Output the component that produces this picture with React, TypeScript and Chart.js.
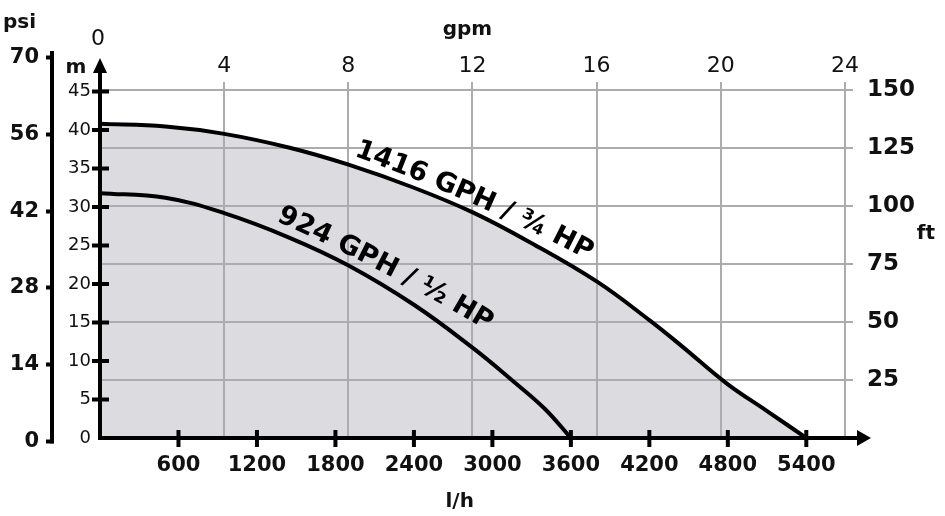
import React, { useEffect, useRef } from 'react';
import { Chart, registerables } from 'chart.js';

Chart.register(...registerables);

// ---- data ----
const flowLph1 = [0, 500, 950, 1450, 1900, 2400, 2850, 3300, 3800, 4200, 4450, 4790, 5100, 5400];
const headM1 = [40.8, 40.45, 39.5, 37.7, 35.5, 32.5, 29.3, 25.3, 20.3, 15.3, 11.9, 7.1, 3.5, 0];
const flowLph2 = [0, 500, 950, 1450, 1900, 2400, 2850, 3150, 3400, 3600];
const headM2 = [31.8, 31.2, 29.2, 26.0, 22.4, 17.3, 11.7, 7.5, 3.8, 0];

const curveLabels = ['1416 GPH / \u00BE HP', '924 GPH / \u00BD HP'];

const lphTicks = [600, 1200, 1800, 2400, 3000, 3600, 4200, 4800, 5400];
const gpmTicks = [0, 4, 8, 12, 16, 20, 24];
const mTicks = [0, 5, 10, 15, 20, 25, 30, 35, 40, 45];
const ftTicks = [25, 50, 75, 100, 125, 150];
const psiTicks = [0, 14, 28, 42, 56, 70];

const FONT = '"DejaVu Sans", sans-serif';
const INK = '#111';

const toPoints = (xs: number[], ys: number[]) => xs.map((x, i) => ({ x, y: ys[i] }));

function drawArcText(ctx: CanvasRenderingContext2D, text: string, cx: number, cy: number, a0d: number, a1d: number) {
  const chars = [...text];
  const widths = chars.map((c) => ctx.measureText(c).width);
  const W = widths.reduce((a, b) => a + b, 0);
  const a0 = (a0d * Math.PI) / 180;
  const a1 = (a1d * Math.PI) / 180;
  const ang = (s: number) => a0 + (a1 - a0) * (s / W);
  const pos = (s: number) => {
    const n = 40;
    let x = cx;
    let y = cy;
    const ds = (s - W / 2) / n;
    for (let i = 0; i < n; i++) {
      const a = ang(W / 2 + (i + 0.5) * ds);
      x += Math.cos(a) * ds;
      y += Math.sin(a) * ds;
    }
    return [x, y];
  };
  let s = 0;
  chars.forEach((c, i) => {
    const sm = s + widths[i] / 2;
    const [x, y] = pos(sm);
    ctx.save();
    ctx.translate(x, y);
    ctx.rotate(ang(sm));
    ctx.fillText(c, 0, 0);
    ctx.restore();
    s += widths[i];
  });
}

const decorPlugin = {
  id: 'pumpDecor',
  afterDatasetDraw(chart: any, args: any) {
    if (args.index !== 0) return;
    const { ctx, chartArea: ca, scales } = chart;
    ctx.save();
    ctx.strokeStyle = 'rgb(172,172,176)';
    ctx.lineWidth = 2;
    for (const v of ftTicks) {
      const y = Math.round(scales.ft.getPixelForValue(v));
      ctx.beginPath();
      ctx.moveTo(ca.left, y);
      ctx.lineTo(ca.right, y);
      ctx.stroke();
    }
    for (const v of gpmTicks) {
      if (v === 0) continue;
      const x = Math.round(scales.x2.getPixelForValue(v));
      ctx.beginPath();
      ctx.moveTo(x, ca.top + 29);
      ctx.lineTo(x, ca.bottom);
      ctx.stroke();
    }
    ctx.restore();
  },
  afterDatasetsDraw(chart: any) {
    const { ctx, chartArea: ca, scales } = chart;
    ctx.save();
    ctx.strokeStyle = '#000';
    ctx.fillStyle = '#000';
    ctx.lineWidth = 4;
    ctx.lineCap = 'butt';
    // psi axis line continued down to its 0 tick
    const psiX = scales.psi.right;
    ctx.beginPath();
    ctx.moveTo(psiX, ca.bottom - 2);
    ctx.lineTo(psiX, scales.psi.getPixelForValue(0) + 2);
    ctx.stroke();
    // vertical (m) axis with arrow
    ctx.beginPath();
    ctx.moveTo(ca.left, ca.bottom + 2);
    ctx.lineTo(ca.left, ca.top + 16);
    ctx.stroke();
    ctx.beginPath();
    ctx.moveTo(ca.left, ca.top + 5);
    ctx.lineTo(ca.left - 7, ca.top + 20);
    ctx.lineTo(ca.left + 7, ca.top + 20);
    ctx.closePath();
    ctx.fill();
    // horizontal (l/h) axis with arrow
    ctx.beginPath();
    ctx.moveTo(ca.left - 2, ca.bottom);
    ctx.lineTo(ca.right + 8, ca.bottom);
    ctx.stroke();
    ctx.beginPath();
    ctx.moveTo(ca.right + 18, ca.bottom);
    ctx.lineTo(ca.right + 4, ca.bottom - 8);
    ctx.lineTo(ca.right + 4, ca.bottom + 8);
    ctx.closePath();
    ctx.fill();
    // crossing tick marks on m axis
    for (const v of mTicks) {
      if (v === 0) continue;
      const y = scales.y.getPixelForValue(v);
      ctx.beginPath();
      ctx.moveTo(ca.left - 8, y);
      ctx.lineTo(ca.left + 9, y);
      ctx.stroke();
    }
    // crossing tick marks on l/h axis
    for (const v of lphTicks) {
      const x = scales.x.getPixelForValue(v);
      ctx.beginPath();
      ctx.moveTo(x, ca.bottom - 8);
      ctx.lineTo(x, ca.bottom + 9);
      ctx.stroke();
    }
    // gpm labels (top)
    ctx.fillStyle = INK;
    ctx.font = `22px ${FONT}`;
    ctx.textAlign = 'center';
    ctx.textBaseline = 'middle';
    for (const v of gpmTicks) {
      const x = scales.x2.getPixelForValue(v);
      if (v === 0) ctx.fillText(String(v), x - 2, ca.top - 14);
      else ctx.fillText(String(v), x, ca.top + 13);
    }
    // unit labels
    ctx.font = `bold 20px ${FONT}`;
    ctx.textBaseline = 'alphabetic';
    ctx.textAlign = 'left';
    ctx.fillText('psi', 3, ca.top - 25);
    ctx.textAlign = 'center';
    ctx.fillText('m', ca.left - 24, ca.top + 20);
    ctx.fillText('gpm', scales.x2.getPixelForValue(12) - 5, ca.top - 18);
    ctx.fillText('ft', ca.right + 73, scales.ft.getPixelForValue(86));
    ctx.fillText('l/h', scales.x.getPixelForValue(2750), ca.bottom + 69);
    // curve labels
    ctx.fillStyle = '#000';
    ctx.font = `bold 27px ${FONT}`;
    ctx.textAlign = 'center';
    ctx.textBaseline = 'middle';
    drawArcText(ctx, curveLabels[0], scales.x.getPixelForValue(2871), scales.y.getPixelForValue(31.25), 20, 28);
    drawArcText(ctx, curveLabels[1], scales.x.getPixelForValue(2190), scales.y.getPixelForValue(22.3), 24, 31);
    ctx.restore();
  },
};

const setTicks = (vals: number[]) => (scale: any) => {
  scale.ticks = vals.map((v) => ({ value: v }));
};

export default function App() {
  const ref = useRef<HTMLCanvasElement | null>(null);

  useEffect(() => {
    document.body.style.margin = '0';
    document.body.style.overflow = 'hidden';
    const canvas = ref.current;
    if (!canvas) return;
    const pts1 = toPoints(flowLph1, headM1);
    const pts2 = toPoints(flowLph2, headM2);
    const curve = { pointRadius: 0, tension: 0.4, xAxisID: 'x', yAxisID: 'y' };
    const chart = new Chart(canvas, {
      type: 'line',
      data: {
        datasets: [
          {
            ...curve,
            label: 'area',
            data: pts1,
            fill: 'origin',
            backgroundColor: 'rgb(220,220,224)',
            borderColor: 'rgba(0,0,0,0)',
            borderWidth: 0,
            order: 5,
          },
          {
            ...curve,
            label: curveLabels[0],
            data: pts1,
            fill: false,
            borderColor: '#000',
            borderWidth: 4,
            order: 1,
          },
          {
            ...curve,
            label: curveLabels[1],
            data: pts2,
            fill: false,
            borderColor: '#000',
            borderWidth: 4,
            order: 1,
          },
        ],
      } as any,
      options: {
        responsive: false,
        animation: false,
        events: [],
        layout: { padding: { top: 53, left: 0, right: 0, bottom: 0 } },
        plugins: { legend: { display: false }, tooltip: { enabled: false } },
        scales: {
          x: {
            type: 'linear',
            position: 'bottom',
            min: 0,
            max: 5757,
            afterBuildTicks: setTicks(lphTicks),
            afterFit: (s: any) => { s.height = 78; },
            grid: { display: false, drawTicks: false, drawOnChartArea: false },
            border: { display: false },
            ticks: {
              autoSkip: false,
              maxRotation: 0,
              padding: 15,
              color: INK,
              font: { family: FONT, size: 21, weight: 'bold' },
              callback: (v: any) => String(v),
            },
          },
          x2: { type: 'linear', position: 'top', display: false, min: 0, max: 24.26 },
          y: {
            type: 'linear',
            position: 'left',
            weight: 0,
            min: 0,
            max: 50,
            afterBuildTicks: setTicks(mTicks),
            afterFit: (s: any) => { s.width = 48; },
            grid: { display: false, drawTicks: false, drawOnChartArea: false },
            border: { display: false },
            ticks: {
              autoSkip: false,
              padding: 9,
              color: INK,
              font: { family: FONT, size: 18 },
              callback: (v: any) => String(v),
            },
          },
          psi: {
            type: 'linear',
            position: 'left',
            weight: 1,
            min: 0.67,
            max: 70.8,
            afterBuildTicks: setTicks(psiTicks),
            afterFit: (s: any) => { s.width = 52; },
            grid: {
              display: true,
              drawOnChartArea: false,
              drawTicks: true,
              tickLength: 6,
              tickWidth: 4,
              tickColor: '#000',
              color: '#000',
            },
            border: { display: true, color: '#000', width: 4 },
            ticks: {
              autoSkip: false,
              padding: 7,
              color: INK,
              font: { family: FONT, size: 21, weight: 'bold' },
              callback: (v: any) => String(v),
            },
          },
          ft: {
            type: 'linear',
            position: 'right',
            min: 0,
            max: 166,
            afterBuildTicks: setTicks(ftTicks),
            afterFit: (s: any) => { s.width = 92; },
            grid: { display: false, drawTicks: false, drawOnChartArea: false },
            border: { display: false },
            ticks: {
              autoSkip: false,
              padding: 14,
              color: INK,
              font: { family: FONT, size: 23, weight: 'bold' },
              callback: (v: any) => String(v),
            },
          },
        },
      } as any,
      plugins: [decorPlugin],
    });
    return () => chart.destroy();
  }, []);

  return <canvas ref={ref} width={945} height={516} style={{ display: 'block' }} />;
}
